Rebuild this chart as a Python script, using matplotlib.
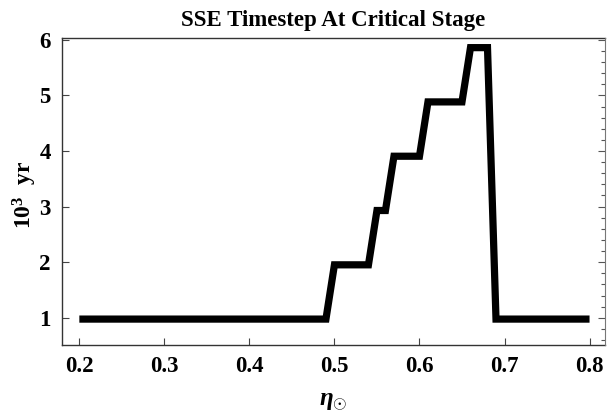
import matplotlib
matplotlib.use("Agg")
import matplotlib.pyplot as plt
from matplotlib.ticker import MultipleLocator

# datos (escalones de 1000/1024 = 0.9766)
eta = [0.20, 0.49, 0.50, 0.54, 0.55, 0.56, 0.57, 0.60, 0.61, 0.65, 0.66, 0.68, 0.69, 0.80]
paso = [0.977, 0.977, 1.953, 1.953, 2.930, 2.930, 3.906, 3.906, 4.883, 4.883, 5.859, 5.859, 0.977, 0.977]

xticks = [0.2, 0.3, 0.4, 0.5, 0.6, 0.7, 0.8]
yticks = [1, 2, 3, 4, 5, 6]

plt.rcParams['font.family'] = ['Liberation Serif', 'DejaVu Serif']
plt.rcParams['mathtext.fontset'] = 'custom'
plt.rcParams['mathtext.it'] = 'Liberation Serif:italic:bold'
plt.rcParams['mathtext.rm'] = 'Liberation Serif:bold'
plt.rcParams['mathtext.bf'] = 'Liberation Serif:bold'

fig = plt.figure(figsize=(6.07, 4.19), dpi=100)
ax = fig.add_axes([0.102, 0.177, 0.895, 0.732])

ax.plot(eta, paso, color='black', linewidth=5.2, solid_joinstyle='miter', solid_capstyle='butt')

ax.set_xlim(0.1795, 0.8184)
ax.set_ylim(0.514, 6.03)
ax.set_xticks(xticks)
ax.set_xticklabels([f'{v:.1f}' for v in xticks], fontsize=16.5, fontweight='bold')
ax.set_yticks(yticks)
ax.set_yticklabels([str(v) for v in yticks], fontsize=16.5, fontweight='bold')
ax.tick_params(axis='both', direction='in', length=5, width=0.8, color='#444444', pad=8)

# eje derecho con ticks menores
ax2 = ax.twinx()
ax2.set_ylim(ax.get_ylim())
ax2.yaxis.set_major_locator(MultipleLocator(1))
ax2.yaxis.set_minor_locator(MultipleLocator(0.2))
ax2.tick_params(axis='y', which='major', direction='in', length=5, width=0.8, color='#555555', labelright=False)
ax2.tick_params(axis='y', which='minor', direction='in', length=3, width=0.8, color='#555555')
for s in ['left', 'bottom', 'top']:
    ax2.spines[s].set_visible(False)
ax2.spines['right'].set_color('#777777')

for s in ['left', 'bottom', 'top']:
    ax.spines[s].set_color('#333333')
    ax.spines[s].set_linewidth(1.0)
ax.spines['right'].set_visible(False)

ax.set_title('SSE Timestep At Critical Stage', fontsize=16.5, fontweight='bold', pad=9)
ax.set_xlabel(r'$\eta_{\odot}$', fontsize=18, labelpad=10)
ax.set_ylabel(r'$\mathbf{10^3}$  yr', fontsize=17, fontweight='bold')
ax.yaxis.set_label_coords(-0.042, 0.49)

fig.savefig('out.png', dpi=100)
